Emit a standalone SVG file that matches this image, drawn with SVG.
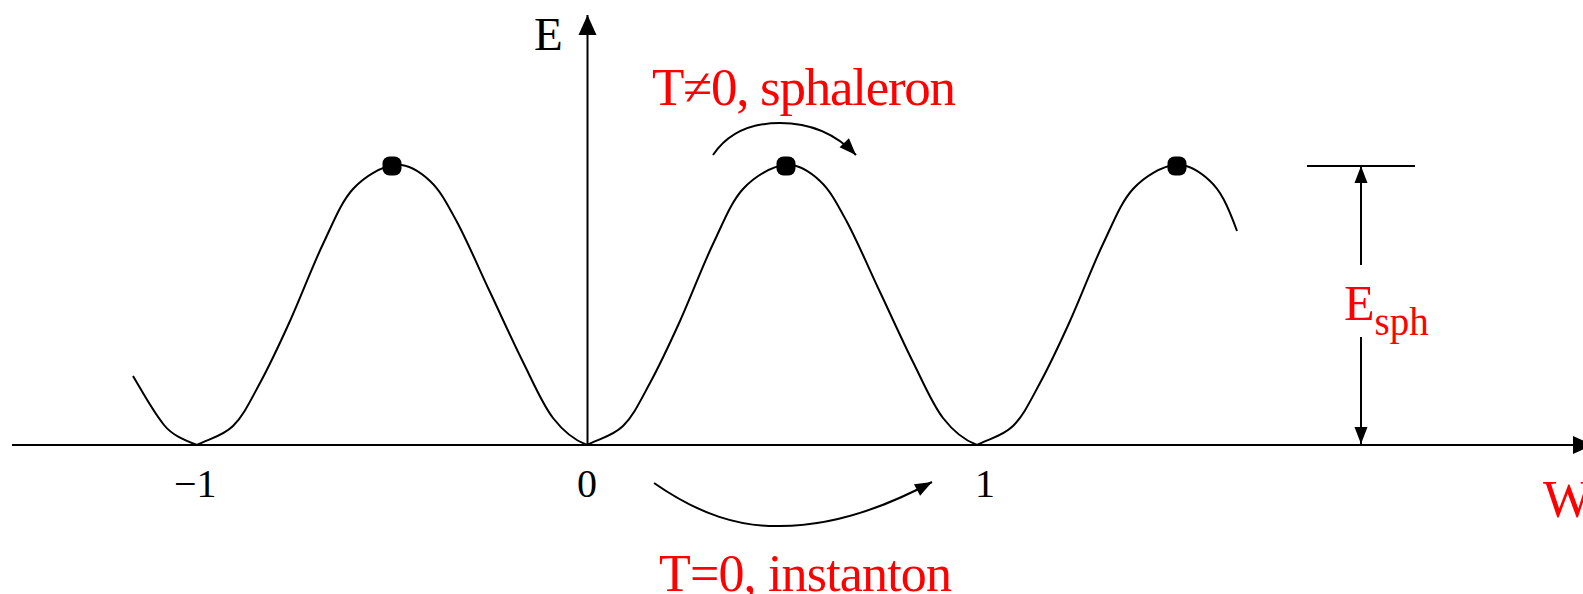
<svg xmlns="http://www.w3.org/2000/svg" width="1583" height="594" viewBox="0 0 1583 594">
<style>
.ln{fill:none;stroke:#000;stroke-width:2;stroke-linejoin:round;stroke-linecap:butt}
.tb{font-family:"Liberation Serif","Times New Roman",serif;fill:#000}
.tr{font-family:"Liberation Serif","Times New Roman",serif;fill:#ff0000}
.dot{fill:#000}
</style>
<defs>
<marker id="ah" markerUnits="userSpaceOnUse" markerWidth="24" markerHeight="24" viewBox="-22 -12 24 24" refX="0" refY="0" orient="auto">
<path d="M0,0 L-20,-9 L-20,9 Z" fill="#000"/>
</marker>
<marker id="as" markerUnits="userSpaceOnUse" markerWidth="24" markerHeight="24" viewBox="-22 -12 24 24" refX="0" refY="0" orient="auto">
<path d="M0,0 L-17,-6.5 L-17,6.5 Z" fill="#000"/>
</marker>
</defs>
<rect width="1583" height="594" fill="#fff"/>
<g id="axes">
<line class="ln" x1="12" y1="445" x2="1593" y2="445" marker-end="url(#ah)"/>
<line class="ln" x1="587.5" y1="445" x2="587.5" y2="15" marker-end="url(#ah)"/>
</g>
<g id="potential">
<path class="ln" d="M133,376 C142,391 152,410 164,425 C172,435 184,440 197,445
c12,-6.3 25.5,-8.7 36,-19 c10.5,-10.3 17.5,-25.5 27,-43 c9.5,-17.5 19.5,-38.8 30,-62 c10.5,-23.2 22.5,-55 33,-77 c10.5,-22 18,-41.8 30,-55 c12,-13.2 29.2,-22.7 42,-24 c12.8,-1.3 24.7,6.5 35,16 c10.3,9.5 17,22.5 27,41 c10,18.5 22,46.7 33,70 c11,23.3 22.5,49 33,70 c10.5,21 19.3,42.2 30,56 c10.7,13.8 22,22.5 34,27
c12,-6.3 25.5,-8.7 36,-19 c10.5,-10.3 17.5,-25.5 27,-43 c9.5,-17.5 19.5,-38.8 30,-62 c10.5,-23.2 22.5,-55 33,-77 c10.5,-22 18,-41.8 30,-55 c12,-13.2 29.2,-22.7 42,-24 c12.8,-1.3 24.7,6.5 35,16 c10.3,9.5 17,22.5 27,41 c10,18.5 22,46.7 33,70 c11,23.3 22.5,49 33,70 c10.5,21 19.3,42.2 30,56 c10.7,13.8 22,22.5 34,27
c12,-6.3 25.5,-8.7 36,-19 c10.5,-10.3 17.5,-25.5 27,-43 c9.5,-17.5 19.5,-38.8 30,-62 c10.5,-23.2 22.5,-55 33,-77 c10.5,-22 18,-41.8 30,-55 c12,-13.2 29.2,-22.7 42,-24 c12.8,-1.3 24.7,6.5 35,16 c10.3,9.5 17,22.5 27,50"/>
</g>
<g id="sphalerons">
<rect class="dot" x="382.5" y="156.5" width="19" height="19" rx="7"/>
<rect class="dot" x="776.5" y="156.5" width="19" height="19" rx="7"/>
<rect class="dot" x="1167.5" y="156.5" width="19" height="19" rx="7"/>
</g>
<g id="connectors">
<path class="ln" d="M713,155 C730,130 755,123 780,123 C810,123 835,133 856,155" marker-end="url(#as)"/>
<path class="ln" d="M654,483 C700,515 740,527 780,526 C830,526 880,510 932,482" marker-end="url(#as)"/>
<line class="ln" x1="1307" y1="166" x2="1415" y2="166"/>
<line class="ln" x1="1361" y1="265" x2="1361" y2="166" marker-end="url(#as)"/>
<line class="ln" x1="1361" y1="337" x2="1361" y2="444" marker-end="url(#as)"/>
</g>
<g id="labels">
<text class="tb" x="534" y="50" font-size="47">E</text>
<text class="tb" x="174" y="497" font-size="40">−1</text>
<text class="tb" x="587" y="497" font-size="40" text-anchor="middle">0</text>
<text class="tb" x="985" y="497" font-size="40" text-anchor="middle">1</text>
<text class="tr" x="652" y="105" font-size="53" textLength="304">T≠0, sphaleron</text>
<text class="tr" x="659" y="591" font-size="52" textLength="293">T=0, instanton</text>
<text class="tr" x="1543" y="517" font-size="52">W</text>
<text class="tr" x="1344" y="320" font-size="50">E<tspan font-size="39" y="335">sph</tspan></text>
</g>
</svg>
